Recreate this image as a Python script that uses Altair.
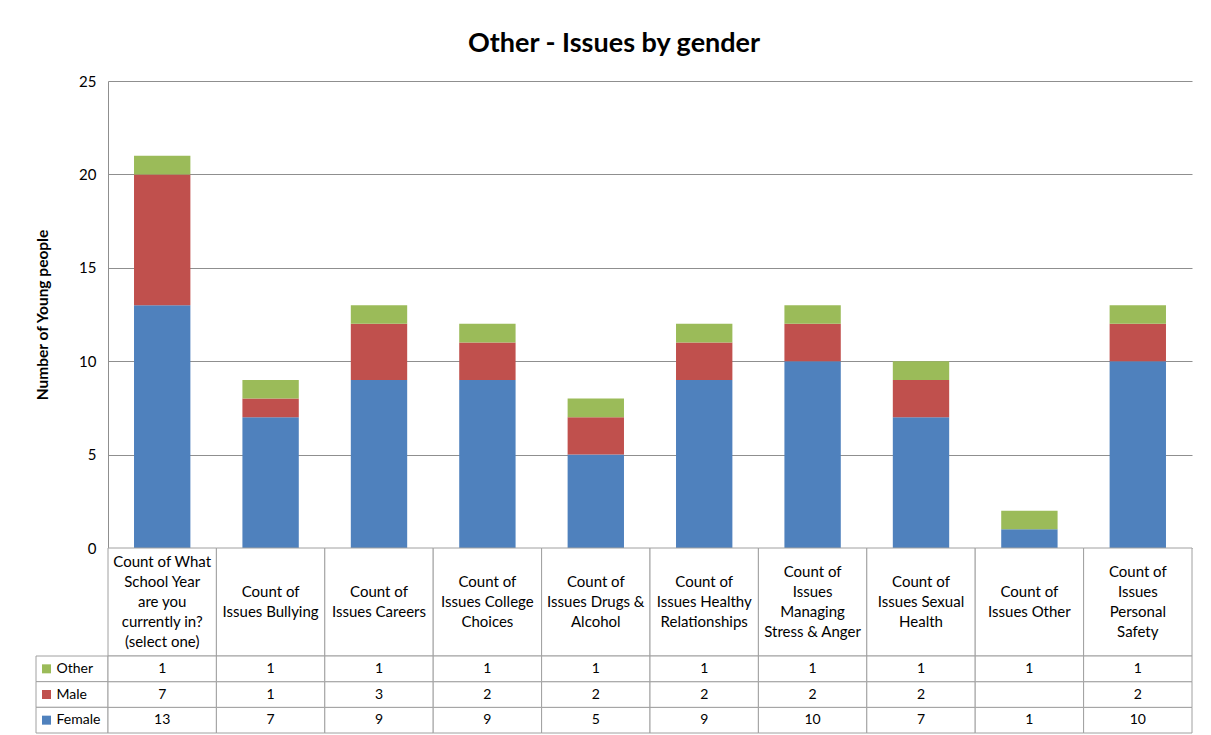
import altair as alt
import pandas as pd

categories = [
    "Count of What School Year are you currently in? (select one)",
    "Count of Issues Bullying",
    "Count of Issues Careers",
    "Count of Issues College Choices",
    "Count of Issues Drugs & Alcohol",
    "Count of Issues Healthy Relationships",
    "Count of Issues Managing Stress & Anger",
    "Count of Issues Sexual Health",
    "Count of Issues Other",
    "Count of Issues Personal Safety",
]
header_lines = [
    ["Count of What", "School Year", "are you", "currently in?", "(select one)"],
    ["Count of", "Issues Bullying"],
    ["Count of", "Issues Careers"],
    ["Count of", "Issues College", "Choices"],
    ["Count of", "Issues Drugs &", "Alcohol"],
    ["Count of", "Issues Healthy", "Relationships"],
    ["Count of", "Issues", "Managing", "Stress & Anger"],
    ["Count of", "Issues Sexual", "Health"],
    ["Count of", "Issues Other"],
    ["Count of", "Issues", "Personal", "Safety"],
]
female = [13, 7, 9, 9, 5, 9, 10, 7, 1, 10]
male = [7, 1, 3, 2, 2, 2, 2, 2, None, 2]
other = [1, 1, 1, 1, 1, 1, 1, 1, 1, 1]

genders = ["Female", "Male", "Other"]
colors = ["#4F81BD", "#C0504D", "#9BBB59"]
series = {"Female": female, "Male": male, "Other": other}

FONT = "Lato"
GRID = "#8f8f8f"
BORDER = "#a0a0a0"
W = 1084

rows = []
for g_i, g in enumerate(genders):
    for c, v in zip(categories, series[g]):
        rows.append({"category": c, "gender": g, "value": v, "order": g_i,
                     "label": "" if v is None else str(v)})
df = pd.DataFrame(rows)
df_bars = df[df["value"].notna()]

color_scale = alt.Scale(domain=genders, range=colors)

bars = alt.Chart(df_bars).mark_bar().encode(
    x=alt.X("category:N", sort=categories,
            scale=alt.Scale(paddingInner=0.48, paddingOuter=0.24), axis=None),
    y=alt.Y("value:Q", stack="zero", scale=alt.Scale(domain=[0, 25], nice=False),
            axis=alt.Axis(values=[0, 5, 10, 15, 20, 25], title="Number of Young people",
                          grid=True, gridColor=GRID, domainColor=GRID, ticks=False,
                          tickSize=0, labelPadding=12, labelFont=FONT, labelFontSize=15,
                          labelColor="#000", titleFont=FONT, titleFontSize=15.5,
                          titleFontWeight="bold", titleColor="#000", titlePadding=28)),
    color=alt.Color("gender:N", scale=color_scale, legend=None),
    order=alt.Order("order:Q"),
).properties(width=W, height=467)

# header table: one row per text line, positioned by a line-offset scale
hdr_rows = []
for c, lines in zip(categories, header_lines):
    n = len(lines)
    for i, t in enumerate(lines):
        hdr_rows.append({"category": c, "line": t, "pos": i - (n - 1) / 2})
hdr_text_df = pd.DataFrame(hdr_rows)
hdr_cells = pd.DataFrame({"category": categories})

xband = alt.X("category:N", sort=categories,
              scale=alt.Scale(paddingInner=0, paddingOuter=0), axis=None)
header_rect = alt.Chart(hdr_cells).mark_rect(fill="white", stroke=BORDER, strokeWidth=1).encode(
    x=xband)
header_text = alt.Chart(hdr_text_df).mark_text(font=FONT, fontSize=15, baseline="middle",
                                               color="#000").encode(
    x=xband,
    y=alt.Y("pos:Q", scale=alt.Scale(domain=[-2.7, 2.7], reverse=True, nice=False), axis=None),
    text="line:N")
header = alt.layer(header_rect, header_text).properties(width=W, height=108)

row_order = ["Other", "Male", "Female"]
yband = alt.Y("gender:N", sort=row_order,
              scale=alt.Scale(domain=row_order, paddingInner=0, paddingOuter=0),
              axis=alt.Axis(title=None, domain=False, ticks=False, tickSize=0,
                            labelAlign="left", labelPadding=52, labelFont=FONT,
                            labelFontSize=14, labelColor="#000", zindex=1))
legend_df = pd.DataFrame({"gender": row_order})
leg_rect = alt.Chart(legend_df).mark_rect(fill="white", stroke=BORDER, strokeWidth=1).encode(
    x=alt.value(-72), x2=alt.value(0), y=yband)
leg_sym = alt.Chart(legend_df).mark_point(shape="square", filled=True, size=81, opacity=1).encode(
    x=alt.value(-61.5), y=yband,
    color=alt.Color("gender:N", scale=color_scale, legend=None))
cell_rect = alt.Chart(df).mark_rect(fill="white", stroke=BORDER, strokeWidth=1).encode(
    x=xband, y=yband)
cell_text = alt.Chart(df).mark_text(font=FONT, fontSize=14, color="#000",
                                    baseline="middle").encode(
    x=xband, y=yband, text="label:N")
table = alt.layer(leg_rect, cell_rect, leg_sym, cell_text).properties(width=W, height=77)

chart = alt.vconcat(bars, header, table, spacing=0, bounds="flush").properties(
    title=alt.TitleParams("Other - Issues by gender", font=FONT, fontSize=27,
                          fontWeight="bold", color="#000", anchor="middle",
                          frame="bounds", offset=16),
    padding={"left": 27, "top": 22, "right": 10, "bottom": 0},
    background="white",
).configure_view(strokeWidth=0).configure_concat(spacing=0)

chart.save("out.html", embed_options={"renderer": "svg", "actions": False})
